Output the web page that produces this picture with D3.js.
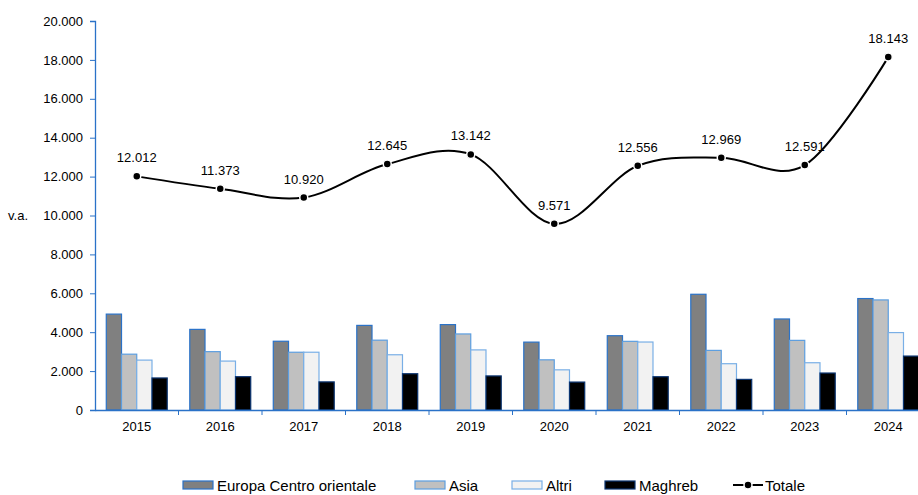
<!DOCTYPE html>
<html>
<head>
<meta charset="utf-8">
<script src="https://cdn.jsdelivr.net/npm/d3@7"></script>
<style>
  body { margin: 0; background: #fff; }
  svg { display: block; overflow: hidden; font-family: "Liberation Sans", Arial, sans-serif; }
</style>
</head>
<body>
<div id="chart"></div>
<script>
// data
var years = ['2015', '2016', '2017', '2018', '2019', '2020', '2021', '2022', '2023', '2024']
var europa = [4930, 4145, 3535, 4350, 4390, 3490, 3820, 5950, 4680, 5730]
var asia = [2870, 3000, 2970, 3590, 3910, 2580, 3530, 3065, 3580, 5660]
var altri = [2565, 2515, 2970, 2840, 3090, 2065, 3495, 2380, 2430, 3980]
var maghreb = [1647, 1713, 1445, 1865, 1752, 1436, 1711, 1574, 1901, 2773]
var totale = [12012, 11373, 10920, 12645, 13142, 9571, 12556, 12969, 12591, 18143]
var yTicks = [0, 2000, 4000, 6000, 8000, 10000, 12000, 14000, 16000, 18000, 20000]

var series = [
    { name: 'Europa Centro orientale', values: europa, fill: '#808080', stroke: '#2a72c8' },
    { name: 'Asia', values: asia, fill: '#c0c0c0', stroke: '#5c9ee0' },
    { name: 'Altri', values: altri, fill: '#f2f2f2', stroke: '#79afe6' },
    { name: 'Maghreb', values: maghreb, fill: '#000000', stroke: '#0b3470' }
]

var width = 918, height = 495
var axisColor = '#2a72c8'
var it = d3.formatLocale({ decimal: ',', thousands: '.', grouping: [3], currency: ['', '€'] })
var fmt = it.format(',d')

var svg = d3.select('#chart').append('svg')
    .attr('width', width)
    .attr('height', height)

var x0 = d3.scaleBand().domain(years).range([95, 930])
var x1 = d3.scaleBand().domain(series.map(d => d.name))
    .range([0, x0.bandwidth()]).paddingInner(0).paddingOuter(0.74)
var y = d3.scaleLinear().domain([0, 20000]).range([410, 21])

// bars
series.forEach(function (s) {
    svg.append('g').selectAll('rect')
        .data(years)
        .enter()
        .append('rect')
        .attr('x', (d, i) => x0(d) + x1(s.name))
        .attr('y', (d, i) => y(s.values[i]))
        .attr('width', x1.bandwidth())
        .attr('height', (d, i) => y(0) - y(s.values[i]))
        .attr('fill', s.fill)
        .attr('stroke', s.stroke)
        .attr('stroke-width', 1.2)
})

// y axis
var yAxis = svg.append('g')
    .attr('transform', 'translate(95,0)')
    .call(d3.axisLeft(y).tickValues(yTicks).tickFormat(d => d == 0 ? '0' : fmt(d)).tickSize(5).tickPadding(7))
yAxis.select('.domain').attr('stroke', axisColor).attr('stroke-width', 1.3)
yAxis.selectAll('.tick line').attr('stroke', axisColor)
yAxis.selectAll('.tick text').attr('fill', '#000').style('font-size', '13px')

// x axis
var xAxis = svg.append('g')
    .attr('transform', 'translate(0,410)')
    .call(d3.axisBottom(x0).tickSize(0).tickPadding(12))
xAxis.select('.domain').attr('stroke', axisColor).attr('stroke-width', 1.3)
xAxis.selectAll('.tick text').attr('fill', '#000').style('font-size', '13px')
svg.append('g').selectAll('line')
    .data(years)
    .enter()
    .append('line')
    .attr('x1', d => x0(d) + x0.bandwidth())
    .attr('x2', d => x0(d) + x0.bandwidth())
    .attr('y1', 410)
    .attr('y2', 415)
    .attr('stroke', axisColor)

svg.append('text')
    .attr('x', 8)
    .attr('y', 220)
    .style('font-size', '13px')
    .text('v.a.')

// totale line
var cx = d => x0(d) + x0.bandwidth() / 2
var line = d3.line()
    .x((d, i) => cx(years[i]))
    .y(d => y(d))
    .curve(d3.curveCardinal.tension(0))
svg.append('path')
    .datum(totale)
    .attr('d', line)
    .attr('fill', 'none')
    .attr('stroke', '#000')
    .attr('stroke-width', 2)

svg.append('g').selectAll('circle')
    .data(totale)
    .enter()
    .append('circle')
    .attr('cx', (d, i) => cx(years[i]))
    .attr('cy', d => y(d))
    .attr('r', 4)
    .attr('fill', '#000')
    .attr('stroke', '#fff')
    .attr('stroke-width', 1.5)

svg.append('g').selectAll('text')
    .data(totale)
    .enter()
    .append('text')
    .attr('x', (d, i) => cx(years[i]))
    .attr('y', d => y(d) - 14)
    .attr('text-anchor', 'middle')
    .style('font-size', '13px')
    .text(d => fmt(d))

// legend
var legendX = [183, 415, 512, 605]
var legend = svg.append('g')
series.forEach(function (s, i) {
    legend.append('rect')
        .attr('x', legendX[i])
        .attr('y', 481)
        .attr('width', 30)
        .attr('height', 8)
        .attr('fill', s.fill)
        .attr('stroke', s.stroke)
        .attr('stroke-width', 1.2)
    legend.append('text')
        .attr('x', legendX[i] + 34)
        .attr('y', 491)
        .style('font-size', '15px')
        .text(s.name)
})
legend.append('line')
    .attr('x1', 733).attr('x2', 763)
    .attr('y1', 485).attr('y2', 485)
    .attr('stroke', '#000').attr('stroke-width', 2)
legend.append('circle')
    .attr('cx', 748).attr('cy', 485).attr('r', 4)
    .attr('fill', '#000').attr('stroke', '#fff').attr('stroke-width', 1.5)
legend.append('text')
    .attr('x', 765)
    .attr('y', 491)
    .style('font-size', '15px')
    .text('Totale')
</script>
</body>
</html>
